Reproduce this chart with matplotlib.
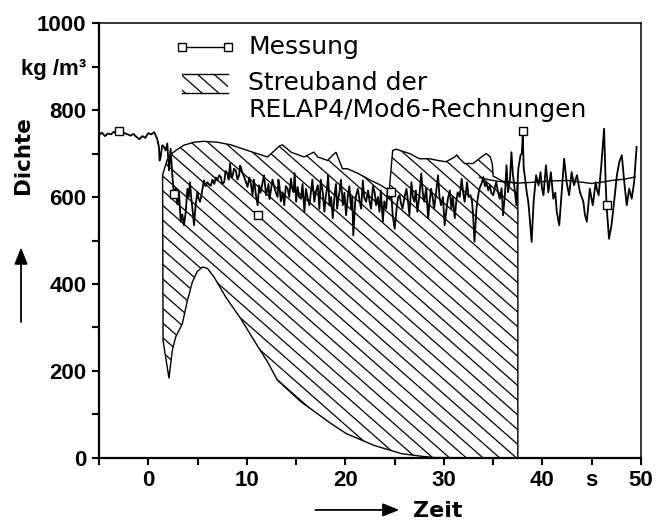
import numpy as np
import matplotlib
matplotlib.use("Agg")
import matplotlib.pyplot as plt
from matplotlib.patches import Rectangle, FancyArrowPatch
from matplotlib.collections import LineCollection

plt.rcParams['font.family'] = ['DejaVu Sans']

# --- Messung (measured density, kg/m3) ---
meas_t = [-5.0, -4.7, -4.4, -4.1, -3.8, -3.5, -3.2, -3.0, -2.7, -2.4,
          -2.1, -1.8, -1.5, -1.2, -0.9, -0.6, -0.3, 0.0, 0.3, 0.6,
          0.74, 0.9, 1.08, 1.15, 1.25, 1.42, 1.6, 1.76, 1.93, 2.1,
          2.27, 2.44, 2.6, 2.8, 2.95, 3.12, 3.29, 3.45, 3.62, 3.8,
          3.97, 4.1, 4.23, 4.35, 4.48, 4.64, 4.8, 4.98, 5.1, 5.25,
          5.4, 5.5, 5.65, 5.8, 6.0, 6.2, 6.35, 6.5, 6.7, 6.85,
          7.0, 7.2, 7.36, 7.5, 7.7, 7.85, 8.04, 8.15, 8.3, 8.4,
          8.53, 8.7, 8.88, 9.05, 9.22, 9.3, 9.39, 9.55, 9.73, 9.9,
          10.07, 10.25, 10.41, 10.58, 10.7, 10.8, 10.95, 11.1, 11.25, 11.4,
          11.6, 11.75, 11.95, 12.1, 12.2, 12.3, 12.44, 12.6, 12.78, 12.95,
          13.12, 13.2, 13.3, 13.45, 13.63, 13.8, 13.95, 14.14, 14.3, 14.48,
          14.6, 14.75, 14.85, 15.0,
          15.16, 15.3, 15.5, 15.65, 15.84, 16.0, 16.15, 16.35, 16.5, 16.65,
          16.85, 17.0, 17.2, 17.36, 17.5, 17.7, 17.87, 18.0, 18.14, 18.25,
          18.38, 18.55, 18.72, 18.9, 19.05, 19.16, 19.3, 19.4, 19.55, 19.74,
          19.9, 20.07,
          20.24, 20.4, 20.58, 20.7, 20.8, 21.0, 21.1, 21.27, 21.45, 21.6,
          21.77, 21.9, 22.1, 22.3, 22.45, 22.6, 22.8, 22.97, 23.12, 23.3,
          23.46, 23.6, 23.8, 23.95, 24.14, 24.3, 24.48, 24.65, 24.8, 25.0,
          25.2, 25.35, 25.5, 25.65, 25.8, 26.0, 26.2, 26.35, 26.5, 26.7,
          26.85, 27.0, 27.15, 27.3, 27.5, 27.7, 27.85, 28.0, 28.2, 28.4,
          28.55, 28.7, 28.85, 29.0, 29.2, 29.4, 29.55, 29.7, 29.9, 30.07,
          30.25, 30.4, 30.6, 30.75, 30.9, 31.1, 31.25, 31.4, 31.6, 31.8,
          31.95, 32.1, 32.25, 32.35, 32.5, 32.7, 32.85, 32.96, 33.1, 33.3,
          33.45, 33.6, 33.8, 34.0, 34.15, 34.3, 34.5, 34.65, 34.8, 35.0,
          35.15, 35.3, 35.5, 35.67, 35.85, 36.0, 36.2, 36.35, 36.5, 36.7,
          36.85, 37.0, 37.1, 37.35, 37.55, 37.77, 37.9, 38.0, 38.1, 38.25,
          38.4, 38.55, 38.65, 38.9, 39.1, 39.35, 39.6, 39.8, 39.95, 40.1,
          40.35, 40.6, 40.85, 41.1, 41.3, 41.45, 41.7, 41.95, 42.2, 42.45,
          42.7, 42.96, 43.2, 43.35, 43.5, 43.8, 44.15, 44.3, 44.5, 44.8,
          45.1,
          45.4, 45.55, 45.7, 45.97, 46.25, 46.4, 46.5, 46.75, 47.0, 47.3,
          47.55, 47.8, 48.05, 48.3, 48.55, 48.8, 49.05, 49.3, 49.55]
meas_rho = [742, 748, 740, 746, 744, 750, 745, 748, 743, 747,
            744, 741, 745, 738, 733, 740, 736, 747, 744, 749,
            742, 734, 715, 684, 692, 719, 715, 707, 723, 661,
            711, 650, 606, 620, 583, 610, 543, 560, 535, 566,
            619, 600, 634, 600, 573, 535, 581, 611, 597, 589,
            605, 619, 638, 625, 634, 628, 626, 640, 630, 645,
            638, 650, 646, 630, 634, 660, 654, 640, 677, 650,
            646, 665, 661, 640, 650, 672, 669, 655, 646, 635,
            623, 645, 630, 604, 640, 627, 600, 581, 627, 610,
            634, 650, 604, 620, 630, 595, 615, 640, 623, 610,
            600, 640, 627, 590, 611, 581, 625, 619, 600, 642,
            620, 611, 655, 589,
            623, 600, 596, 630, 566, 619, 600, 581, 611, 640,
            589, 612, 627, 573, 640, 611, 566, 600, 619, 650,
            581, 600, 551, 604, 630, 573, 598, 611, 640, 581,
            610, 558,
            600, 625, 573, 600, 512, 589, 605, 619, 590, 573,
            638, 600, 589, 615, 590, 573, 625, 611, 581, 600,
            566, 615, 543, 590, 573, 620, 596, 611, 558, 527,
            573, 600, 604, 585, 573, 600, 619, 590, 558, 634,
            600, 589, 615, 566, 600, 654, 610, 589, 620, 551,
            590, 619, 600, 573, 610, 650, 600, 581, 600, 535,
            570, 596, 615, 573, 600, 551, 590, 611, 600, 642,
            610, 589, 615, 634, 600, 604, 590, 558, 497, 573,
            600, 619, 630, 646, 625, 634, 615, 627, 610, 604,
            620, 634, 610, 596, 620, 558, 610, 673, 611, 640,
            703, 650, 634, 581, 665, 696, 700, 742, 665, 640,
            611, 590, 566, 497, 589, 650, 627, 657, 620, 604,
            673, 611, 657, 596, 610, 566, 535, 611, 688, 634,
            604, 657, 627, 640, 650, 611, 589, 560, 543, 619,
            581,
            634, 615, 604, 673, 757, 640, 581, 504, 535, 596,
            650, 681, 696, 634, 581, 619, 596, 634, 715]

# square markers on the measured curve
mark_t = [-3.0, 2.6, 11.1, 24.65, 38.0, 46.5]
mark_rho = [752, 606, 559, 611, 751, 581]

# --- Streuband der RELAP4/Mod6-Rechnungen ---
band_up_t = [1.45, 1.9, 2.4, 2.8, 3.6, 4.64, 5.65, 7.0, 8.37, 10.07,
             12.1, 13.3, 13.6, 14.5, 15.8, 16.5, 16.8, 17.2, 18.2, 18.7,
             19.05, 19.7, 20.2, 21.3, 22.6, 23.6, 24.45, 24.8, 25.15, 26.5,
             27.5, 28.5, 29.4, 30.2, 31.1, 31.3, 31.6, 32.1, 32.96, 33.8,
             34.3, 34.7, 34.9, 35.0, 36.0, 37.5]
band_up = [650, 685, 700, 707, 719, 726, 728, 726, 720, 707,
           692, 717, 720, 703, 692, 700, 703, 692, 684, 696,
           703, 665, 665, 654, 638, 627, 615, 707, 710, 700,
           688, 688, 684, 681, 692, 697, 688, 677, 677, 692,
           700, 692, 677, 648, 636, 632]
band_lo_t = [1.45, 1.5, 2.1, 2.44, 2.78, 3.46, 3.97, 4.48, 4.98, 5.5,
             6.0, 6.67, 7.86, 9.39, 10.74, 12.1, 13.1, 15.5, 18.55, 20.1,
             22.9, 25.7, 27.7, 29.0, 37.5]
band_lo = [650, 270, 183, 248, 278, 309, 362, 405, 429, 439,
           436, 416, 370, 320, 270, 221, 179, 129, 79, 56,
           29, 10, 4, 1, 0]

# smooth calculated line after the transient
calc_t = [33.6, 34.5, 35.5, 37.5, 39.2, 41.0, 42.6, 44.0, 45.0, 46.0, 47.0, 48.3, 49.4]
calc_rho = [645, 640, 636, 632, 634, 637, 638, 634, 631, 634, 638, 641, 646]

x_ticks = [-5, 0, 5, 10, 15, 20, 25, 30, 35, 40, 45, 50]
x_labels = ['', '0', '', '10', '', '20', '', '30', '', '40', 's', '50']
y_ticks = [0, 100, 200, 300, 400, 500, 600, 700, 800, 900, 1000]
y_labels = ['0', '', '200', '', '400', '', '600', '', '800', 'kg /m³', '1000']

tick_font = ['Liberation Sans', 'DejaVu Sans']

fig = plt.figure(figsize=(6.57, 5.23), dpi=100)
ax = fig.add_axes([0.1507, 0.1243, 0.825, 0.8317])


def hatch_lines(clip, spacing_px=16.7, slope=0.88):
    # diagonal "\" lines in axes fraction, clipped to a patch
    bb = ax.get_position()
    w_px = bb.width * fig.get_figwidth() * fig.dpi
    h_px = bb.height * fig.get_figheight() * fig.dpi
    dx = (h_px / slope) / w_px
    step = spacing_px / w_px
    segs = [[(x0, 1.0), (x0 + dx, 0.0)] for x0 in np.arange(-dx, 1.0, step)]
    lc = LineCollection(segs, colors='black', linewidths=0.9, transform=ax.transAxes)
    ax.add_collection(lc)
    lc.set_clip_path(clip)


# hatched band
poly_x = np.concatenate([band_up_t, band_lo_t[::-1]])
poly_y = np.concatenate([band_up, band_lo[::-1]])
band = ax.fill(poly_x, poly_y, facecolor='none', edgecolor='black', linewidth=1.0)[0]
hatch_lines(band)

ax.plot(calc_t, calc_rho, color='black', lw=1.0)
ax.plot(meas_t, meas_rho, color='black', lw=1.3)
ax.plot(mark_t, mark_rho, ls='none', marker='s', ms=5.5,
        mfc='white', mec='black', mew=1.0)

ax.set_xlim(-5, 50)
ax.set_ylim(0, 1000)
ax.set_xticks(x_ticks)
ax.set_xticklabels(x_labels)
ax.set_yticks(y_ticks)
ax.set_yticklabels(y_labels)
ax.tick_params(direction='out', length=5, width=1.5, pad=4)
for lab in ax.get_xticklabels() + ax.get_yticklabels():
    lab.set_family(tick_font)
    lab.set_fontsize(16)
    lab.set_fontweight('bold')
for side in ['left', 'bottom']:
    ax.spines[side].set_linewidth(1.6)
for side in ['top', 'right']:
    ax.spines[side].set_linewidth(1.1)

# legend drawn by hand
tr = ax.transAxes
ax.plot([0.153, 0.238], [0.945, 0.945], color='black', lw=1.0, transform=tr,
        marker='s', ms=5.5, mfc='white', mec='black', mew=1.0)
ax.text(0.275, 0.945, 'Messung', transform=tr, fontsize=18, va='center', ha='left')
leg_box = Rectangle((0.153, 0.839), 0.085, 0.044, transform=tr,
                    facecolor='none', edgecolor='none')
ax.add_patch(leg_box)
hatch_lines(leg_box)
ax.plot([0.153, 0.238], [0.883, 0.883], color='black', lw=1.0, transform=tr)
ax.plot([0.153, 0.238], [0.839, 0.839], color='black', lw=1.0, transform=tr)
ax.text(0.275, 0.862, 'Streuband der', transform=tr, fontsize=18, va='center', ha='left')
ax.text(0.275, 0.80, 'RELAP4/Mod6-Rechnungen', transform=tr, fontsize=18,
        va='center', ha='left')

# axis labels with arrows
fig.text(0.035, 0.704, 'Dichte', rotation=90, fontsize=15.5, fontweight='bold',
         ha='center', va='center')
fig.add_artist(FancyArrowPatch(
    (0.032, 0.379), (0.032, 0.532), transform=fig.transFigure,
    arrowstyle='-|>,head_length=0.5,head_width=0.2', mutation_scale=20,
    color='black', lw=1.3))
fig.text(0.629, 0.023, 'Zeit', fontsize=16, fontweight='bold', ha='left', va='center')
fig.add_artist(FancyArrowPatch(
    (0.476, 0.025), (0.612, 0.025), transform=fig.transFigure,
    arrowstyle='-|>,head_length=0.5,head_width=0.2', mutation_scale=20,
    color='black', lw=1.3))

fig.savefig('out.png', dpi=100)
